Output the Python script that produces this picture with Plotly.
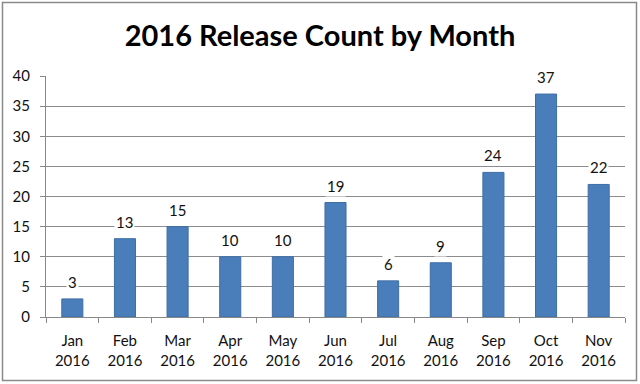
import plotly.graph_objects as go

months = ["Jan<br>2016", "Feb<br>2016", "Mar<br>2016", "Apr<br>2016", "May<br>2016", "Jun<br>2016",
          "Jul<br>2016", "Aug<br>2016", "Sep<br>2016", "Oct<br>2016", "Nov<br>2016"]
counts = [3, 13, 15, 10, 10, 19, 6, 9, 24, 37, 22]
y_ticks = [0, 5, 10, 15, 20, 25, 30, 35, 40]

FONT = "Lato, 'Open Sans', sans-serif"

fig = go.Figure()
fig.add_trace(go.Bar(
    x=months, y=counts,
    marker=dict(color="#4A7EBB", line=dict(color="#3D6DA6", width=1)),
    hoverinfo="skip",
))

for m, c in zip(months, counts):
    fig.add_annotation(x=m, y=c, text=str(c), showarrow=False, yanchor="bottom", yshift=6,
                       bgcolor="white", font=dict(size=15, color="#111", family=FONT), borderpad=1)

W, H = 640, 384
ml, mr, mt, mb = 46, 15, 76, 67
pw, ph = W - ml - mr, H - mt - mb

def px(x):
    return (x - ml) / pw

def py(y):
    return (H - mb - y) / ph

fig.add_shape(type="rect", xref="paper", yref="paper",
              x0=px(2.5), x1=px(636.5), y0=py(380.5), y1=py(2.5),
              line=dict(color="#8a8a8a", width=1.5), layer="below")

fig.update_layout(
    width=W, height=H,
    margin=dict(l=ml, r=mr, t=mt, b=mb),
    paper_bgcolor="white", plot_bgcolor="white",
    bargap=0.6,
    showlegend=False,
    title=dict(text="<b>2016 Release Count by Month</b>", x=0.5, xref="container", xanchor="center",
               y=1 - 36 / H, yanchor="middle", font=dict(size=29, color="#000", family=FONT)),
    font=dict(family=FONT, size=15, color="#111"),
)
fig.update_xaxes(
    type="category", tickson="boundaries", ticks="outside", ticklen=5, tickcolor="#888",
    showline=True, linecolor="#888", linewidth=1, showgrid=False,
    ticklabelstandoff=10,
    tickfont=dict(size=15, family=FONT, color="#111"),
)
fig.update_yaxes(
    range=[0, 40], tickvals=y_ticks, ticks="outside", ticklen=5, tickcolor="#888",
    showline=True, linecolor="#888", linewidth=1,
    showgrid=True, gridcolor="#8c8c8c", gridwidth=1, zeroline=False,
    ticklabelstandoff=7,
    tickfont=dict(size=15, family=FONT, color="#111"),
)

fig.write_html("out.html", config={"displayModeBar": False},
               post_script="document.body.style.margin='0';")
